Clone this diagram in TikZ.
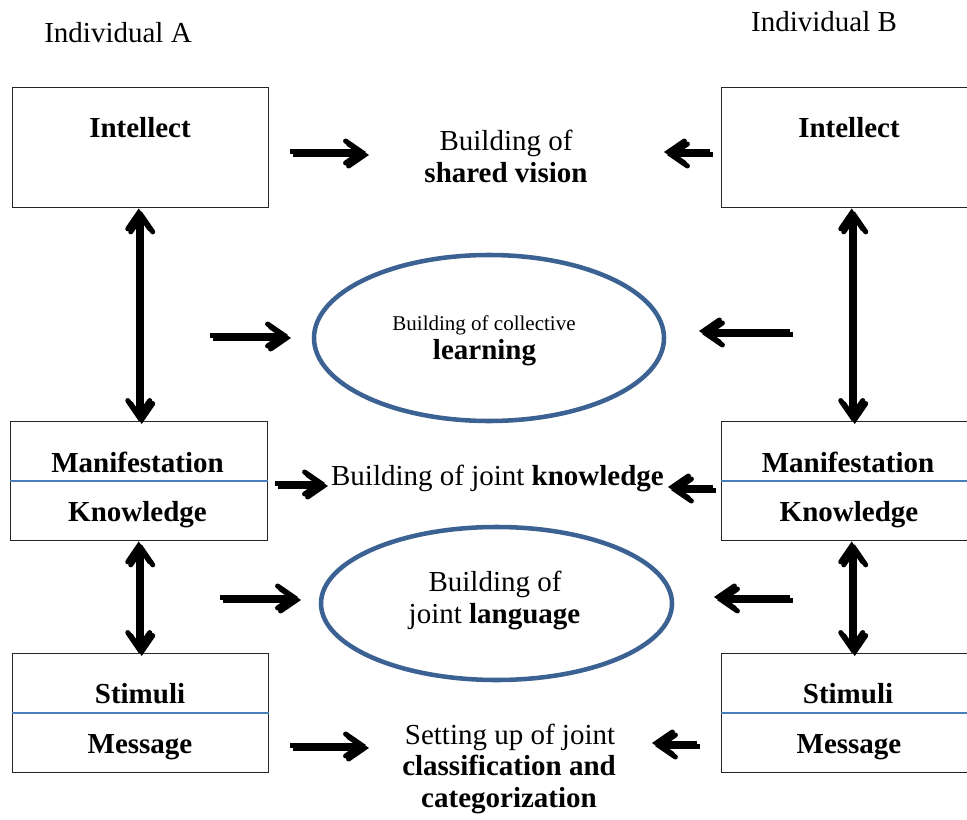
\documentclass[tikz,border=0pt]{standalone}
\usepackage{fontspec}
\setmainfont{Liberation Serif}
\usetikzlibrary{arrows.meta,shapes.geometric}

\definecolor{ellblue}{HTML}{3C6293}
\definecolor{divblue}{HTML}{4A7EBB}
\definecolor{shade}{HTML}{9A9A9A}

\newcommand\bigtxt{\fontsize{21.75}{24.5}\selectfont}
\newcommand\smalltxt{\fontsize{15.75}{18}\selectfont}

\tikzset{
  box/.style={draw=black!85, line width=1.1pt, anchor=north west, inner sep=0pt,
              minimum width=192pt, minimum height=90pt},
  lbl/.style={anchor=base, inner sep=0pt, font=\bigtxt},
  slbl/.style={anchor=base, inner sep=0pt, font=\smalltxt},
  divider/.style={draw=divblue, line width=1.2pt},
  oval/.style={ellipse, draw=ellblue, line width=3.4pt, inner sep=0pt},
  arrbase/.style={line width=3.75pt},
  barb/.tip={Straight Barb[length=12pt,width=16.5pt,line cap=round]},
  tipR/.style={-barb},
  tipB/.style={barb-barb},
}

% thick arrow with a grey drop shadow below and to the right
\newcommand\shadowed[3]{%
  \draw[arrbase, shade, #1] ([shift={(3,3)}]#2) -- ([shift={(3,3)}]#3);
  \draw[arrbase, black, #1] (#2) -- (#3);}

\begin{document}
\begin{tikzpicture}[x=0.75pt, y=-0.75pt]
  \useasboundingbox (0,0) rectangle (967,820);
  \clip (0,0) rectangle (967,820);

  % headings
  \node[lbl] (indA) at (118,43) {Individual A};
  \node[lbl] (indB) at (824,32) {Individual B};

  % boxes of individual A
  \node[box] (intA) at (12,87) {};
  \node[box, minimum width=192.75pt, minimum height=89.25pt] (manA) at (9.5,421) {};
  \node[box, minimum height=89.25pt] (stiA) at (12,653) {};
  % boxes of individual B
  \node[box, minimum width=195pt] (intB) at (721,87) {};
  \node[box, minimum width=195pt, minimum height=89.25pt] (manB) at (721,421) {};
  \node[box, minimum width=195pt, minimum height=89.25pt] (stiB) at (721,653) {};

  \draw[divider] (manA.west) -- (manA.east);
  \draw[divider] (stiA.west) -- (stiA.east);
  \draw[divider] (manB.west) -- (manB.east);
  \draw[divider] (stiB.west) -- (stiB.east);

  % box labels
  \node[lbl] (intAt) at (140,138) {\textbf{Intellect}};
  \node[lbl] (intBt) at (849,138) {\textbf{Intellect}};
  \node[lbl] (manAt) at (137.5,472) {\textbf{Manifestation}};
  \node[lbl] (knoAt) at (137.5,521) {\textbf{Knowledge}};
  \node[lbl] (manBt) at (848,472) {\textbf{Manifestation}};
  \node[lbl] (knoBt) at (849,521) {\textbf{Knowledge}};
  \node[lbl] (stiAt) at (140,703) {\textbf{Stimuli}};
  \node[lbl] (mesAt) at (140,753) {\textbf{Message}};
  \node[lbl] (stiBt) at (848,703) {\textbf{Stimuli}};
  \node[lbl] (mesBt) at (849,753) {\textbf{Message}};

  % shared constructions in the middle
  \node[oval, minimum width=262.5pt, minimum height=124.5pt] (learn) at (489,338) {};
  \node[oval, minimum width=263.25pt, minimum height=114.75pt] (lang) at (496.5,603.5) {};

  \node[lbl] (vis1) at (506,151) {Building of};
  \node[lbl] (vis2) at (506,183) {\textbf{shared vision}};
  \node[slbl] (lea1) at (484,330) {Building of collective};
  \node[lbl] (lea2) at (484.5,359) {\textbf{learning}};
  \node[lbl] (know) at (497.5,485) {Building of joint \textbf{knowledge}};
  \node[lbl] (lan1) at (495,591) {Building of};
  \node[lbl] (lan2) at (494.5,623) {joint \textbf{language}};
  \node[lbl] (cla1) at (510,744) {Setting up of joint};
  \node[lbl] (cla2) at (509,775) {\textbf{classification and}};
  \node[lbl] (cla3) at (509,807) {\textbf{categorization}};

  % free ends of the horizontal arrows
  \coordinate (h1a) at (290,152);  \coordinate (h1b) at (366,152);
  \coordinate (h2a) at (710,152);  \coordinate (h2b) at (664,152);
  \coordinate (h3a) at (210,335);  \coordinate (h3b) at (288,335);
  \coordinate (h4a) at (790,331);  \coordinate (h4b) at (699,331);
  \coordinate (h5a) at (275,483);  \coordinate (h5b) at (325,483);
  \coordinate (h6a) at (713,487);  \coordinate (h6b) at (668,487);
  \coordinate (h7a) at (220,597);  \coordinate (h7b) at (298,597);
  \coordinate (h8a) at (790,597);  \coordinate (h8b) at (714,597);
  \coordinate (h9a) at (290,745);  \coordinate (h9b) at (366,745);
  \coordinate (h10a) at (697,743); \coordinate (h10b) at (652,743);

  \shadowed{tipR}{h1a}{h1b}
  \shadowed{tipR}{h2a}{h2b}
  \shadowed{tipR}{h3a}{h3b}
  \shadowed{tipR}{h4a}{h4b}
  \shadowed{tipR}{h5a}{h5b}
  \shadowed{tipR}{h6a}{h6b}
  \shadowed{tipR}{h7a}{h7b}
  \shadowed{tipR}{h8a}{h8b}
  \shadowed{tipR}{h9a}{h9b}
  \shadowed{tipR}{h10a}{h10b}

  % vertical two-way links between the levels
  \shadowed{tipB}{manA.north |- intA.south}{manA.north}
  \shadowed{tipB}{manB.north |- intB.south}{manB.north}
  \shadowed{tipB}{manA.south}{manA.south |- stiA.north}
  \shadowed{tipB}{manB.south}{manB.south |- stiB.north}
\end{tikzpicture}
\end{document}
